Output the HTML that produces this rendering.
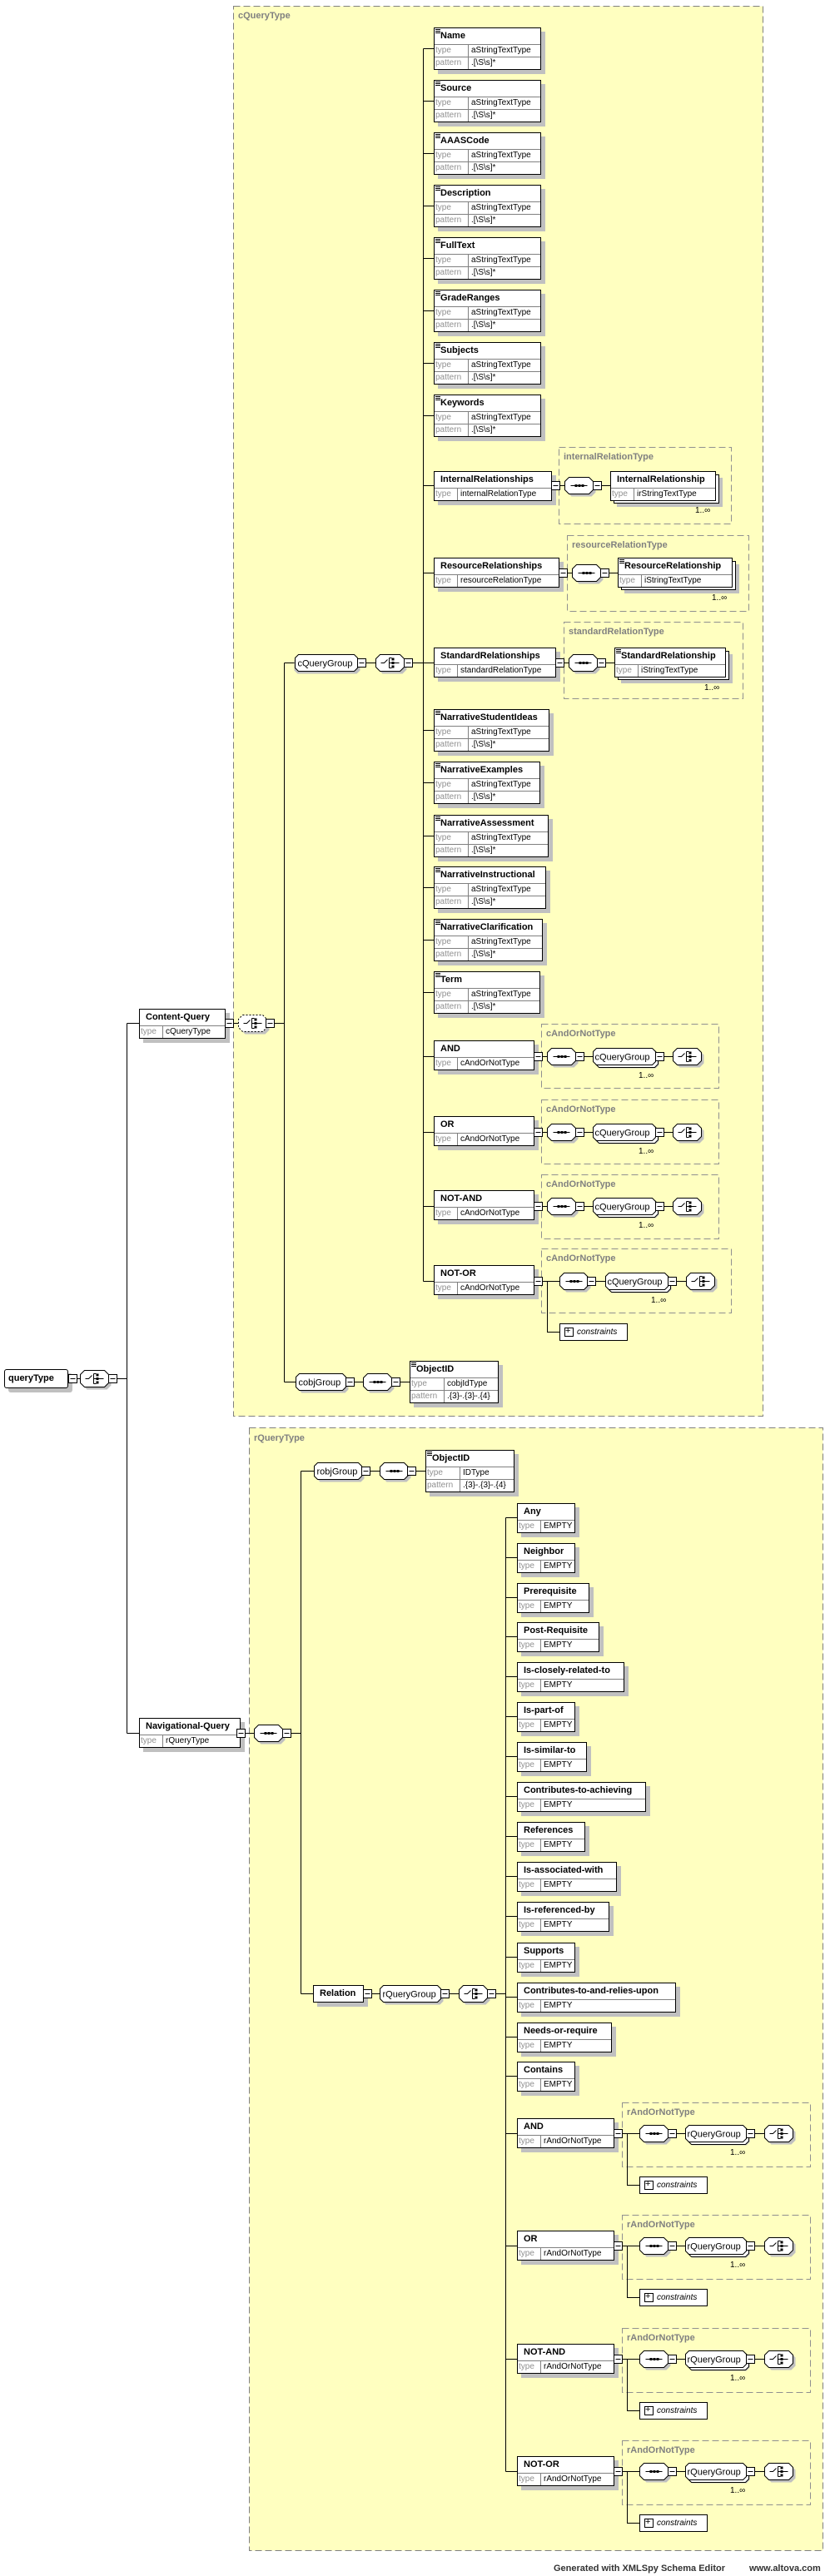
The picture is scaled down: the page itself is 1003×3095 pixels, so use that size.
<!DOCTYPE html>
<html><head><meta charset="utf-8">
<style>
body{margin:0;width:1003px;height:3095px;background:#fff;position:relative;overflow:hidden;font-family:"Liberation Sans",sans-serif}
svg{position:absolute;left:0;top:0}
.e{position:absolute;box-sizing:border-box;background:#fff;border:1px solid #000;box-shadow:5px 5px 0 #c0c0c0;font-size:10px;color:#000}
.e .t{height:19px;line-height:19px;font-weight:bold;font-size:11px;padding-left:7px;border-bottom:1px solid #808080;position:relative;white-space:nowrap}
.e .t i{position:absolute;left:1px;top:1px;width:6px;height:1px;background:#000;box-shadow:0 2px #000,0 4px #000}
.e .r{height:14px;line-height:14px;display:flex;white-space:nowrap}
.e .r+.r{border-top:1px solid #808080}
.e .r b{font-weight:normal;color:#909090;width:26px;border-right:1px solid #808080;padding-left:1px;flex:none}
.e.p .r b{width:39px}
.e .r span{padding-left:3px}
.e .t:last-child{border-bottom:none}
.stk{position:absolute;box-sizing:border-box;background:#fff;border:1px solid #000;box-shadow:4px 4px 0 #c0c0c0}
.lbl{position:absolute;font-size:11px;font-weight:bold;color:#808080}
.occ{position:absolute;font-size:10px}
.gt{font-size:11px}
.cons{position:absolute;box-sizing:border-box;background:#fff;border:1px solid #000;font-size:10px;font-style:italic;height:21px;line-height:19px;padding-left:20px}
.cons:before{content:"";position:absolute;left:5px;top:4px;width:9px;height:9px;border:1px solid #000}
.cons:after{content:"+";position:absolute;left:6px;top:-1px;font-style:normal;font-size:11px}
.ft{position:absolute;top:3080px;font-size:11px;font-weight:bold;color:#333}
</style></head><body>

<svg width="1003" height="3095">
<defs>
<g id="oct"><polygon transform="translate(3,3)" fill="#c0c0c0" points="5,-10 29,-10 34,-5 34,5 29,10 5,10 0,5 0,-5"/><polygon fill="#fff" stroke="#000" points="5,-10 29,-10 34,-5 34,5 29,10 5,10 0,5 0,-5"/></g>
<g id="seq"><use href="#oct"/><path d="M7,0H27" stroke="#000"/><rect x="12" y="-1.5" width="3" height="3"/><rect x="16" y="-1.5" width="3" height="3"/><rect x="20" y="-1.5" width="3" height="3"/></g>
<g id="cho"><use href="#oct"/><path d="M6,0H10L14,-4 M16,-6V6 M16,-6h3 M16,6h3 M16,0H28" stroke="#000" fill="none"/><rect x="19" y="-6" width="3" height="3"/><rect x="19" y="-1.5" width="3" height="3"/><rect x="19" y="3" width="3" height="3"/></g>
<g id="dch"><polygon transform="translate(3,3)" fill="#c0c0c0" points="5,-10 29,-10 34,-5 34,5 29,10 5,10 0,5 0,-5"/><polygon fill="#fff" stroke="#000" stroke-dasharray="2,2" points="5,-10 29,-10 34,-5 34,5 29,10 5,10 0,5 0,-5"/><path d="M6,0H10L14,-4 M16,-6V6 M16,-6h3 M16,6h3 M16,0H28" stroke="#000" fill="none"/><rect x="19" y="-6" width="3" height="3"/><rect x="19" y="-1.5" width="3" height="3"/><rect x="19" y="3" width="3" height="3"/></g>
<g id="mn"><rect x="0" y="-5" width="10" height="10" fill="#fff" stroke="#000"/><path d="M2,0H8" stroke="#000"/></g>
</defs>
<g transform="translate(0.5,0.5)">
<!-- dashed type boxes -->
<g fill="#ffffc0" stroke="#808080" stroke-dasharray="8,4">
<rect x="280" y="7" width="636" height="1694"/>
<rect x="299" y="1715" width="689" height="1349"/>
</g>
<g fill="none" stroke="#909090" stroke-dasharray="8,4">
<rect x="671" y="537" width="207" height="92"/>
<rect x="681" y="643" width="218" height="91"/>
<rect x="677" y="747" width="215" height="92"/>
<rect x="650" y="1230" width="213" height="77"/>
<rect x="650" y="1321" width="213" height="77"/>
<rect x="650" y="1411" width="213" height="77"/>
<rect x="650" y="1500" width="228" height="77"/>
<rect x="747" y="2526" width="226" height="77"/>
<rect x="747" y="2661" width="226" height="77"/>
<rect x="747" y="2797" width="226" height="77"/>
<rect x="747" y="2932" width="226" height="77"/>
</g>
<!-- connectors -->
<g stroke="#000" fill="none">
<path d="M82,1656H152 M152,1229V2082 M152,1229H167 M152,2082H167"/>
<path d="M270,1229H341 M341,796V1660 M341,796H354 M341,1660H355"/>
<path d="M429,796H521 M508,58V1539"/>
<path d="M508,58H521 M508,121H521 M508,184H521 M508,247H521 M508,310H521 M508,373H521 M508,436H521 M508,499H521 M508,583H521 M508,688H521 M508,877H521 M508,940H521 M508,1004H521 M508,1066H521 M508,1129H521 M508,1192H521 M508,1269H521 M508,1360H521 M508,1449H521 M508,1539H521"/>
<path d="M662,583H733 M671,688H742 M667,796H738"/>
<path d="M641,1269H808 M641,1360H808 M641,1449H808 M641,1539H824 M657,1539V1600H672"/>
<path d="M415,1660H492"/>
<path d="M284,2082H361 M361,1767V2395 M361,1767H377 M361,2395H376 M434,1767H511 M436,2395H607 M607,1823V2969"/>
<path d="M607,1823H621 M607,1871H621 M607,1919H621 M607,1966H621 M607,2014H621 M607,2062H621 M607,2110H621 M607,2158H621 M607,2206H621 M607,2254H621 M607,2302H621 M607,2351H621 M607,2399H621 M607,2447H621 M607,2494H621 M607,2563H621 M607,2698H621 M607,2834H621 M607,2969H621"/>
<path d="M737,2563H918 M753,2563V2625H768 M737,2698H918 M753,2698V2760H768 M737,2834H918 M753,2834V2896H768 M737,2969H918 M753,2969V3031H768"/>
</g>
<!-- group ovals -->
<g stroke="#000" fill="#fff">
<polygon transform="translate(3,3)" fill="#c0c0c0" stroke="none" points="354,786 425,786 429,790 429,802 425,806 354,806 350,802 350,790"/>
<polygon points="358,786 425,786 429,790 429,802 425,806 358,806 354,802 354,790"/>
<polygon transform="translate(3,3)" fill="#c0c0c0" stroke="none" points="359,1650 411,1650 415,1654 415,1666 411,1670 359,1670 355,1666 355,1654"/>
<polygon points="359,1650 411,1650 415,1654 415,1666 411,1670 359,1670 355,1666 355,1654"/>
<polygon transform="translate(3,3)" fill="#c0c0c0" stroke="none" points="381,1757 430,1757 434,1761 434,1773 430,1777 381,1777 377,1773 377,1761"/>
<polygon points="381,1757 430,1757 434,1761 434,1773 430,1777 381,1777 377,1773 377,1761"/>
<polygon transform="translate(3,3)" fill="#c0c0c0" stroke="none" points="460,2385 525,2385 529,2389 529,2401 525,2405 460,2405 456,2401 456,2389"/>
<polygon points="460,2385 525,2385 529,2389 529,2401 525,2405 460,2405 456,2401 456,2389"/>
</g>
<!-- stacked groups in and/or types -->
<g stroke="#000" fill="#fff">
<g id="cg1"><polygon transform="translate(4,4)" fill="#c0c0c0" stroke="none" points="716,1259 783,1259 787,1263 787,1275 783,1279 716,1279 712,1275 712,1263"/><polygon transform="translate(3,3)" points="716,1259 783,1259 787,1263 787,1275 783,1279 716,1279 712,1275 712,1263"/><polygon points="716,1259 783,1259 787,1263 787,1275 783,1279 716,1279 712,1275 712,1263"/></g>
<use href="#cg1" y="91"/><use href="#cg1" y="180"/><use href="#cg1" x="15" y="270"/>
<g id="rg1"><polygon transform="translate(4,4)" fill="#c0c0c0" stroke="none" points="827,2553 892,2553 896,2557 896,2569 892,2573 827,2573 823,2569 823,2557"/><polygon transform="translate(3,3)" points="827,2553 892,2553 896,2557 896,2569 892,2573 827,2573 823,2569 823,2557"/><polygon points="827,2553 892,2553 896,2557 896,2569 892,2573 827,2573 823,2569 823,2557"/></g>
<use href="#rg1" y="135"/><use href="#rg1" y="271"/><use href="#rg1" y="406"/>
</g>
<!-- octagons -->
<use href="#cho" x="96" y="1656"/>
<use href="#dch" x="286" y="1229"/>
<use href="#cho" x="451" y="796"/>
<use href="#seq" x="678" y="583"/>
<use href="#seq" x="687" y="688"/>
<use href="#seq" x="683" y="796"/>
<use href="#seq" x="657" y="1269"/><use href="#cho" x="808" y="1269"/>
<use href="#seq" x="657" y="1360"/><use href="#cho" x="808" y="1360"/>
<use href="#seq" x="657" y="1449"/><use href="#cho" x="808" y="1449"/>
<use href="#seq" x="672" y="1539"/><use href="#cho" x="824" y="1539"/>
<use href="#seq" x="436" y="1660"/>
<use href="#seq" x="305" y="2082"/>
<use href="#seq" x="456" y="1767"/>
<use href="#cho" x="551" y="2395"/>
<use href="#seq" x="768" y="2563"/><use href="#cho" x="918" y="2563"/>
<use href="#seq" x="768" y="2698"/><use href="#cho" x="918" y="2698"/>
<use href="#seq" x="768" y="2834"/><use href="#cho" x="918" y="2834"/>
<use href="#seq" x="768" y="2969"/><use href="#cho" x="918" y="2969"/>
<!-- minus boxes -->
<use href="#mn" x="130" y="1656"/>
<use href="#mn" x="319" y="1229"/>
<use href="#mn" x="429" y="796"/><use href="#mn" x="485" y="796"/>
<use href="#mn" x="712" y="583"/><use href="#mn" x="721" y="688"/><use href="#mn" x="717" y="796"/>
<use href="#mn" x="691" y="1269"/><use href="#mn" x="787" y="1269"/>
<use href="#mn" x="691" y="1360"/><use href="#mn" x="787" y="1360"/>
<use href="#mn" x="691" y="1449"/><use href="#mn" x="787" y="1449"/>
<use href="#mn" x="705" y="1539"/><use href="#mn" x="802" y="1539"/>
<use href="#mn" x="415" y="1660"/><use href="#mn" x="470" y="1660"/>
<use href="#mn" x="339" y="2082"/>
<use href="#mn" x="434" y="1767"/><use href="#mn" x="489" y="1767"/>
<use href="#mn" x="529" y="2395"/><use href="#mn" x="585" y="2395"/>
<use href="#mn" x="802" y="2563"/><use href="#mn" x="896" y="2563"/>
<use href="#mn" x="802" y="2698"/><use href="#mn" x="896" y="2698"/>
<use href="#mn" x="802" y="2834"/><use href="#mn" x="896" y="2834"/>
<use href="#mn" x="802" y="2969"/><use href="#mn" x="896" y="2969"/>
<!-- group labels -->
<g font-family="Liberation Sans, sans-serif" font-size="11">
<text x="357" y="800">cQueryGroup</text>
<text x="358" y="1664">cobjGroup</text>
<text x="380" y="1771">robjGroup</text>
<text x="459" y="2399">rQueryGroup</text>
<text x="714" y="1273">cQueryGroup</text>
<text x="714" y="1364">cQueryGroup</text>
<text x="714" y="1453">cQueryGroup</text>
<text x="729" y="1543">cQueryGroup</text>
<text x="825" y="2567">rQueryGroup</text>
<text x="825" y="2702">rQueryGroup</text>
<text x="825" y="2838">rQueryGroup</text>
<text x="825" y="2973">rQueryGroup</text>
</g>
</g>
</svg>

<div class="lbl" style="left:286px;top:13px">cQueryType</div>
<div class="lbl" style="left:305px;top:1722px">rQueryType</div>
<div class="lbl" style="left:677px;top:543px">internalRelationType</div>
<div class="lbl" style="left:687px;top:649px">resourceRelationType</div>
<div class="lbl" style="left:683px;top:753px">standardRelationType</div>
<div class="lbl" style="left:656px;top:1236px">cAndOrNotType</div>
<div class="lbl" style="left:656px;top:1327px">cAndOrNotType</div>
<div class="lbl" style="left:656px;top:1417px">cAndOrNotType</div>
<div class="lbl" style="left:656px;top:1506px">cAndOrNotType</div>
<div class="lbl" style="left:753px;top:2532px">rAndOrNotType</div>
<div class="lbl" style="left:753px;top:2667px">rAndOrNotType</div>
<div class="lbl" style="left:753px;top:2803px">rAndOrNotType</div>
<div class="lbl" style="left:753px;top:2938px">rAndOrNotType</div>

<!-- root -->
<div class="e" style="left:5px;top:1645px;width:77px;height:23px;border-radius:3px"><div class="t" style="line-height:21px;height:21px;padding-left:4px">queryType</div></div>
<div class="e" style="left:167px;top:1212px;width:104px"><div class="t">Content-Query</div><div class="r"><b>type</b><span>cQueryType</span></div></div>
<div class="e" style="left:167px;top:2064px;width:122px"><div class="t">Navigational-Query</div><div class="r"><b>type</b><span>rQueryType</span></div></div>

<!-- cQueryType pattern elements -->
<div class="e p" style="left:521px;top:33px;width:129px"><div class="t"><i></i>Name</div><div class="r"><b>type</b><span>aStringTextType</span></div><div class="r"><b>pattern</b><span>.[\S\s]*</span></div></div>
<div class="e p" style="left:521px;top:96px;width:129px"><div class="t"><i></i>Source</div><div class="r"><b>type</b><span>aStringTextType</span></div><div class="r"><b>pattern</b><span>.[\S\s]*</span></div></div>
<div class="e p" style="left:521px;top:159px;width:129px"><div class="t"><i></i>AAASCode</div><div class="r"><b>type</b><span>aStringTextType</span></div><div class="r"><b>pattern</b><span>.[\S\s]*</span></div></div>
<div class="e p" style="left:521px;top:222px;width:129px"><div class="t"><i></i>Description</div><div class="r"><b>type</b><span>aStringTextType</span></div><div class="r"><b>pattern</b><span>.[\S\s]*</span></div></div>
<div class="e p" style="left:521px;top:285px;width:129px"><div class="t"><i></i>FullText</div><div class="r"><b>type</b><span>aStringTextType</span></div><div class="r"><b>pattern</b><span>.[\S\s]*</span></div></div>
<div class="e p" style="left:521px;top:348px;width:129px"><div class="t"><i></i>GradeRanges</div><div class="r"><b>type</b><span>aStringTextType</span></div><div class="r"><b>pattern</b><span>.[\S\s]*</span></div></div>
<div class="e p" style="left:521px;top:411px;width:129px"><div class="t"><i></i>Subjects</div><div class="r"><b>type</b><span>aStringTextType</span></div><div class="r"><b>pattern</b><span>.[\S\s]*</span></div></div>
<div class="e p" style="left:521px;top:474px;width:129px"><div class="t"><i></i>Keywords</div><div class="r"><b>type</b><span>aStringTextType</span></div><div class="r"><b>pattern</b><span>.[\S\s]*</span></div></div>

<div class="e" style="left:521px;top:566px;width:142px"><div class="t">InternalRelationships</div><div class="r"><b>type</b><span>internalRelationType</span></div></div>
<div class="stk" style="left:737px;top:570px;width:127px;height:35px"></div>
<div class="e" style="left:733px;top:566px;width:127px;box-shadow:none"><div class="t">InternalRelationship</div><div class="r"><b>type</b><span>irStringTextType</span></div></div>
<div class="occ" style="left:835px;top:608px">1..∞</div>

<div class="e" style="left:521px;top:670px;width:151px"><div class="t">ResourceRelationships</div><div class="r"><b>type</b><span>resourceRelationType</span></div></div>
<div class="stk" style="left:746px;top:674px;width:138px;height:35px"></div>
<div class="e" style="left:742px;top:670px;width:138px;box-shadow:none"><div class="t"><i></i>ResourceRelationship</div><div class="r"><b>type</b><span>iStringTextType</span></div></div>
<div class="occ" style="left:855px;top:713px">1..∞</div>

<div class="e" style="left:521px;top:778px;width:147px"><div class="t">StandardRelationships</div><div class="r"><b>type</b><span>standardRelationType</span></div></div>
<div class="stk" style="left:742px;top:782px;width:134px;height:35px"></div>
<div class="e" style="left:738px;top:778px;width:134px;box-shadow:none"><div class="t"><i></i>StandardRelationship</div><div class="r"><b>type</b><span>iStringTextType</span></div></div>
<div class="occ" style="left:846px;top:821px">1..∞</div>

<div class="e p" style="left:521px;top:852px;width:139px"><div class="t"><i></i>NarrativeStudentIdeas</div><div class="r"><b>type</b><span>aStringTextType</span></div><div class="r"><b>pattern</b><span>.[\S\s]*</span></div></div>
<div class="e p" style="left:521px;top:915px;width:128px"><div class="t"><i></i>NarrativeExamples</div><div class="r"><b>type</b><span>aStringTextType</span></div><div class="r"><b>pattern</b><span>.[\S\s]*</span></div></div>
<div class="e p" style="left:521px;top:979px;width:138px"><div class="t"><i></i>NarrativeAssessment</div><div class="r"><b>type</b><span>aStringTextType</span></div><div class="r"><b>pattern</b><span>.[\S\s]*</span></div></div>
<div class="e p" style="left:521px;top:1041px;width:135px"><div class="t"><i></i>NarrativeInstructional</div><div class="r"><b>type</b><span>aStringTextType</span></div><div class="r"><b>pattern</b><span>.[\S\s]*</span></div></div>
<div class="e p" style="left:521px;top:1104px;width:131px"><div class="t"><i></i>NarrativeClarification</div><div class="r"><b>type</b><span>aStringTextType</span></div><div class="r"><b>pattern</b><span>.[\S\s]*</span></div></div>
<div class="e p" style="left:521px;top:1167px;width:128px"><div class="t"><i></i>Term</div><div class="r"><b>type</b><span>aStringTextType</span></div><div class="r"><b>pattern</b><span>.[\S\s]*</span></div></div>

<div class="e" style="left:521px;top:1250px;width:121px"><div class="t">AND</div><div class="r"><b>type</b><span>cAndOrNotType</span></div></div>
<div class="e" style="left:521px;top:1341px;width:121px"><div class="t">OR</div><div class="r"><b>type</b><span>cAndOrNotType</span></div></div>
<div class="e" style="left:521px;top:1430px;width:121px"><div class="t">NOT-AND</div><div class="r"><b>type</b><span>cAndOrNotType</span></div></div>
<div class="e" style="left:521px;top:1520px;width:121px"><div class="t">NOT-OR</div><div class="r"><b>type</b><span>cAndOrNotType</span></div></div>
<div class="occ" style="left:767px;top:1287px">1..∞</div>
<div class="occ" style="left:767px;top:1378px">1..∞</div>
<div class="occ" style="left:767px;top:1467px">1..∞</div>
<div class="occ" style="left:782px;top:1557px">1..∞</div>
<div class="cons" style="left:672px;top:1590px;width:82px">constraints</div>

<div class="e p" style="left:492px;top:1635px;width:107px"><div class="t"><i></i>ObjectID</div><div class="r"><b>type</b><span>cobjIdType</span></div><div class="r"><b>pattern</b><span>.{3}-.{3}-.{4}</span></div></div>

<!-- rQueryType -->
<div class="e p" style="left:511px;top:1742px;width:107px"><div class="t"><i></i>ObjectID</div><div class="r"><b>type</b><span>IDType</span></div><div class="r"><b>pattern</b><span>.{3}-.{3}-.{4}</span></div></div>
<div class="e" style="left:376px;top:2385px;width:61px;height:21px"><div class="t" style="border:none">Relation</div></div>

<div class="e" style="left:621px;top:1806px;width:70px"><div class="t">Any</div><div class="r"><b>type</b><span>EMPTY</span></div></div>
<div class="e" style="left:621px;top:1854px;width:70px"><div class="t">Neighbor</div><div class="r"><b>type</b><span>EMPTY</span></div></div>
<div class="e" style="left:621px;top:1902px;width:87px"><div class="t">Prerequisite</div><div class="r"><b>type</b><span>EMPTY</span></div></div>
<div class="e" style="left:621px;top:1949px;width:99px"><div class="t">Post-Requisite</div><div class="r"><b>type</b><span>EMPTY</span></div></div>
<div class="e" style="left:621px;top:1997px;width:129px"><div class="t">Is-closely-related-to</div><div class="r"><b>type</b><span>EMPTY</span></div></div>
<div class="e" style="left:621px;top:2045px;width:70px"><div class="t">Is-part-of</div><div class="r"><b>type</b><span>EMPTY</span></div></div>
<div class="e" style="left:621px;top:2093px;width:84px"><div class="t">Is-similar-to</div><div class="r"><b>type</b><span>EMPTY</span></div></div>
<div class="e" style="left:621px;top:2141px;width:155px"><div class="t">Contributes-to-achieving</div><div class="r"><b>type</b><span>EMPTY</span></div></div>
<div class="e" style="left:621px;top:2189px;width:82px"><div class="t">References</div><div class="r"><b>type</b><span>EMPTY</span></div></div>
<div class="e" style="left:621px;top:2237px;width:120px"><div class="t">Is-associated-with</div><div class="r"><b>type</b><span>EMPTY</span></div></div>
<div class="e" style="left:621px;top:2285px;width:111px"><div class="t">Is-referenced-by</div><div class="r"><b>type</b><span>EMPTY</span></div></div>
<div class="e" style="left:621px;top:2334px;width:70px"><div class="t">Supports</div><div class="r"><b>type</b><span>EMPTY</span></div></div>
<div class="e" style="left:621px;top:2382px;width:191px"><div class="t">Contributes-to-and-relies-upon</div><div class="r"><b>type</b><span>EMPTY</span></div></div>
<div class="e" style="left:621px;top:2430px;width:114px"><div class="t">Needs-or-require</div><div class="r"><b>type</b><span>EMPTY</span></div></div>
<div class="e" style="left:621px;top:2477px;width:70px"><div class="t">Contains</div><div class="r"><b>type</b><span>EMPTY</span></div></div>

<div class="e" style="left:621px;top:2545px;width:117px"><div class="t">AND</div><div class="r"><b>type</b><span>rAndOrNotType</span></div></div>
<div class="e" style="left:621px;top:2680px;width:117px"><div class="t">OR</div><div class="r"><b>type</b><span>rAndOrNotType</span></div></div>
<div class="e" style="left:621px;top:2816px;width:117px"><div class="t">NOT-AND</div><div class="r"><b>type</b><span>rAndOrNotType</span></div></div>
<div class="e" style="left:621px;top:2951px;width:117px"><div class="t">NOT-OR</div><div class="r"><b>type</b><span>rAndOrNotType</span></div></div>
<div class="occ" style="left:877px;top:2581px">1..∞</div>
<div class="occ" style="left:877px;top:2716px">1..∞</div>
<div class="occ" style="left:877px;top:2852px">1..∞</div>
<div class="occ" style="left:877px;top:2987px">1..∞</div>
<div class="cons" style="left:768px;top:2615px;width:82px">constraints</div>
<div class="cons" style="left:768px;top:2750px;width:82px">constraints</div>
<div class="cons" style="left:768px;top:2886px;width:82px">constraints</div>
<div class="cons" style="left:768px;top:3021px;width:82px">constraints</div>

<svg width="1003" height="3095" style="pointer-events:none"><g transform="translate(0.5,0.5)">
<use href="#mn" x="82" y="1656"/>
<use href="#mn" x="270" y="1229"/>
<use href="#mn" x="662" y="583"/><use href="#mn" x="671" y="688"/><use href="#mn" x="667" y="796"/>
<use href="#mn" x="641" y="1269"/><use href="#mn" x="641" y="1360"/><use href="#mn" x="641" y="1449"/><use href="#mn" x="641" y="1539"/>
<use href="#mn" x="284" y="2082"/>
<use href="#mn" x="436" y="2395"/>
<use href="#mn" x="737" y="2563"/><use href="#mn" x="737" y="2698"/><use href="#mn" x="737" y="2834"/><use href="#mn" x="737" y="2969"/>
</g></svg>

<div class="ft" style="left:665px">Generated with XMLSpy Schema Editor</div>
<div class="ft" style="left:900px">www.altova.com</div>
</body></html>
